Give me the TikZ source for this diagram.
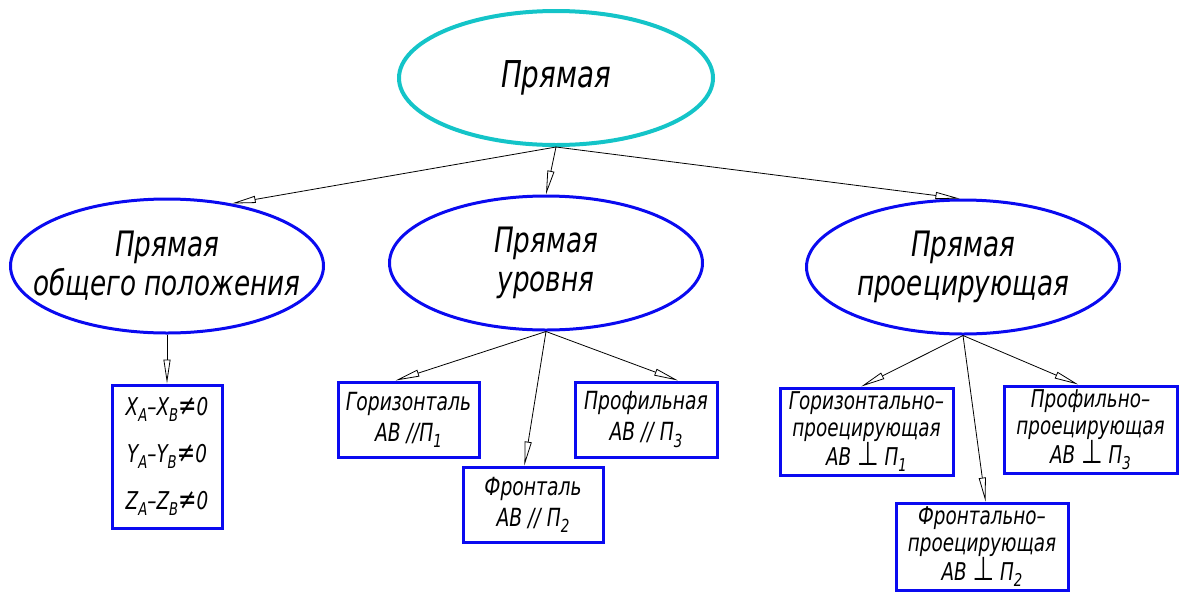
\documentclass[tikz,border=0pt]{standalone}
\usepackage{fontspec}
\usepackage{graphicx}
\setmainfont{DejaVu Sans}[FakeStretch=0.75]
\usetikzlibrary{shapes.geometric,arrows.meta,calc}
\definecolor{topcyan}{RGB}{20,196,200}
\definecolor{boxblue}{RGB}{10,10,240}
\newcommand\lowidx[1]{\raisebox{-0.45ex}{\scalebox{0.72}{#1}}}
\newcommand\perpsym{\raisebox{-0.05ex}{\scalebox{1.35}{⊥}}}
\newcommand\neqsym{\scalebox{1.2}{≠}}
\begin{document}
\begin{tikzpicture}[x=1pt,y=-1pt,
  topell/.style={ellipse, draw=topcyan, line width=4pt, minimum width=314pt, minimum height=134pt, inner sep=0pt},
  subell/.style={ellipse, draw=boxblue, line width=3pt, minimum width=313pt, minimum height=134pt, inner sep=0pt},
  elltext/.style={align=center, inner sep=0pt, font=\fontsize{35}{39}\selectfont\itshape},
  leafbox/.style={rectangle, draw=boxblue, line width=3pt, inner sep=0pt, align=center, font=\fontsize{25}{31}\selectfont\itshape},
  projbox/.style={rectangle, draw=boxblue, line width=3pt, inner sep=0pt, align=center, font=\fontsize{24.5}{27}\selectfont\itshape},
  arr/.style={draw=black, line width=0.8pt, -{Triangle[open, length=24pt, width=7pt]}}
]
\useasboundingbox (0,0) rectangle (1182,592);

\node[topell, label={[elltext, font=\fontsize{37}{39}\selectfont\itshape]center:Прямая}] (top) at (556,78) {};

\node[subell, label={[elltext]center:Прямая\\общего положения}] (gen) at (167,266) {};
\node[subell, label={[elltext]center:Прямая\\уровня}] (lev) at (546,263) {};
\node[subell, label={[elltext]center:Прямая\\проецирующая}] (prj) at (963,267) {};

\node[leafbox, minimum width=110pt, minimum height=143pt, font=\fontsize{24.5}{47}\selectfont\itshape] (frm) at (167,456.5)
  {X\lowidx{A}–X\lowidx{B}\neqsym0\\Y\lowidx{A}–Y\lowidx{B}\neqsym0\\Z\lowidx{A}–Z\lowidx{B}\neqsym0};

\node[leafbox, minimum width=141pt, minimum height=75pt] (hor) at (408.5,419.5) {Горизонталь\\AB //П\lowidx{1}};
\node[leafbox, minimum width=140pt, minimum height=75pt] (fro) at (533,504.5) {Фронталь\\AB // П\lowidx{2}};
\node[leafbox, minimum width=142pt, minimum height=75pt] (pro) at (646,419.5) {Профильная\\AB // П\lowidx{3}};

\node[projbox, minimum width=173pt, minimum height=87pt] (hp) at (866.5,431.5) {Горизонтально–\\проецирующая\\AB \perpsym{} П\lowidx{1}};
\node[projbox, minimum width=172pt, minimum height=87pt] (fp) at (982,546.5) {Фронтально–\\проецирующая\\AB \perpsym{} П\lowidx{2}};
\node[projbox, minimum width=173pt, minimum height=87pt] (pp) at (1090.5,429.5) {Профильно–\\проецирующая\\AB \perpsym{} П\lowidx{3}};

\draw[arr] (top.south) -- (gen.44);
\draw[arr] (top.south) -- (lev.north);
\draw[arr] (top.south) -- (prj.93);

\draw[arr] (gen.south) -- (frm.north);

\draw[arr] (lev.south) -- ($(hor.north west)!0.41!(hor.north east)$);
\draw[arr] (lev.south) -- ($(fro.north west)!0.44!(fro.north east)$);
\draw[arr] (lev.south) -- ($(pro.north west)!0.72!(pro.north east)$);

\draw[arr] (prj.south) -- ($(hp.north west)!0.47!(hp.north east)$);
\draw[arr] (prj.south) -- ($(fp.north west)!0.52!(fp.north east)$);
\draw[arr] (prj.south) -- ($(pp.north west)!0.43!(pp.north east)$);
\end{tikzpicture}
\end{document}
